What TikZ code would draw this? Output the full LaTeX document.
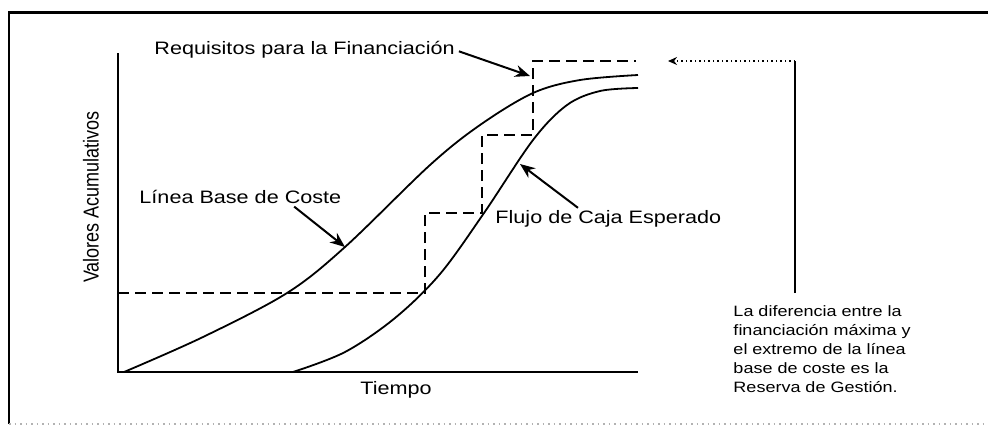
\documentclass[tikz,border=0pt]{standalone}
\usepackage{fontspec}
\setmainfont{Liberation Sans}
\usetikzlibrary{arrows.meta,calc}

\newlength{\du}
\setlength{\du}{0.5pt}

\definecolor{dialinecolor}{rgb}{0.000000, 0.000000, 0.000000}
\definecolor{framegray}{rgb}{0.700000, 0.700000, 0.700000}

\tikzset{
  axisline/.style={draw=dialinecolor, line width=2.2\du},
  scurve/.style={draw=dialinecolor, line width=1.8\du},
  fundstep/.style={draw=dialinecolor, line width=1.8\du, dash pattern=on 11\du off 6\du},
  callout/.style={draw=dialinecolor, line width=2\du, -{Stealth[length=7.5pt,width=6pt]}},
  dotcallout/.style={draw=dialinecolor, line width=1.3\du, dash pattern=on 1.5\du off 3\du, -{Stealth[length=4.5pt,width=4pt]}},
  plaintext/.style={font=\fontsize{9}{11}\selectfont, xscale=1.2, inner sep=0pt},
  notetext/.style={font=\fontsize{7.5}{9.5}\selectfont, xscale=1.2, inner sep=0pt, align=left},
}

\begin{document}
\begin{tikzpicture}
\pgftransformxscale{1.000000}
\pgftransformyscale{-1.000000}
\useasboundingbox (0\du,0\du) rectangle (988\du,430\du);
% frame
\draw[line width=3\du] (8\du,12\du) -- (988\du,12\du);
\draw[line width=2.5\du] (9\du,11\du) -- (9\du,424\du);
\draw[framegray, line width=1.5\du, dotted] (9\du,424\du) -- (988\du,424\du);
% axes
\draw[axisline] (118\du,53\du) -- (118\du,372\du) -- (638\du,372\du);
% cost baseline
\draw[scurve] plot[smooth, tension=0.55] coordinates {(124\du,372\du) (203\du,337\du) (287\du,293\du) (345\du,247\du) (430\du,165\du) (480\du,125\du) (533\du,93\du) (580\du,80\du) (638\du,75\du)};
% expected cash flow
\draw[scurve] plot[smooth, tension=0.55] coordinates {(293\du,372\du) (345\du,352\du) (395\du,318\du) (440\du,274\du) (484\du,213\du) (533\du,140\du) (567\du,105\du) (600\du,91\du) (638\du,88\du)};
% funding requirements
\draw[fundstep] (118\du,293\du) -- (425\du,293\du) -- (425\du,213\du) -- (482\du,213\du) -- (482\du,135\du) -- (533\du,135\du) -- (533\du,61\du) -- (636\du,61\du);
% texts
\node[plaintext, rotate=90] (yvals) at (91\du,197\du) {Valores Acumulativos};
\node[plaintext] (time) at (396\du,390\du) {Tiempo};
\node[plaintext, anchor=west] (req) at (154\du,50\du) {Requisitos para la Financiación};
\node[plaintext, anchor=west] (base) at (139\du,197\du) {Línea Base de Coste};
\node[plaintext, anchor=west] (flow) at (495\du,219\du) {Flujo de Caja Esperado};
\node[notetext, anchor=north west] (note) at (733\du,305\du) {La diferencia entre la\\financiación máxima y\\el extremo de la línea\\base de coste es la\\Reserva de Gestión.};
% arrows
\coordinate (reqtip) at (530\du,76\du);
\coordinate (basetip) at (345\du,247\du);
\coordinate (flowtip) at (520\du,164\du);
\coordinate (bend) at (795\du,61\du);
\coordinate (reservetip) at (668\du,61\du);
\draw[callout, shorten <=4\du] (req.east) -- (reqtip);
\draw[callout, shorten <=4\du] ($(base.south)!.5!(base.south east)$) -- (basetip);
\draw[callout, shorten <=4\du] ($(flow.north west)!.38!(flow.north east)$) -- (flowtip);
\draw[line width=1.3\du] ([yshift=-6pt]note.north -| bend) -- (bend);
\draw[dotcallout] (bend) -- (reservetip);
\end{tikzpicture}
\end{document}
